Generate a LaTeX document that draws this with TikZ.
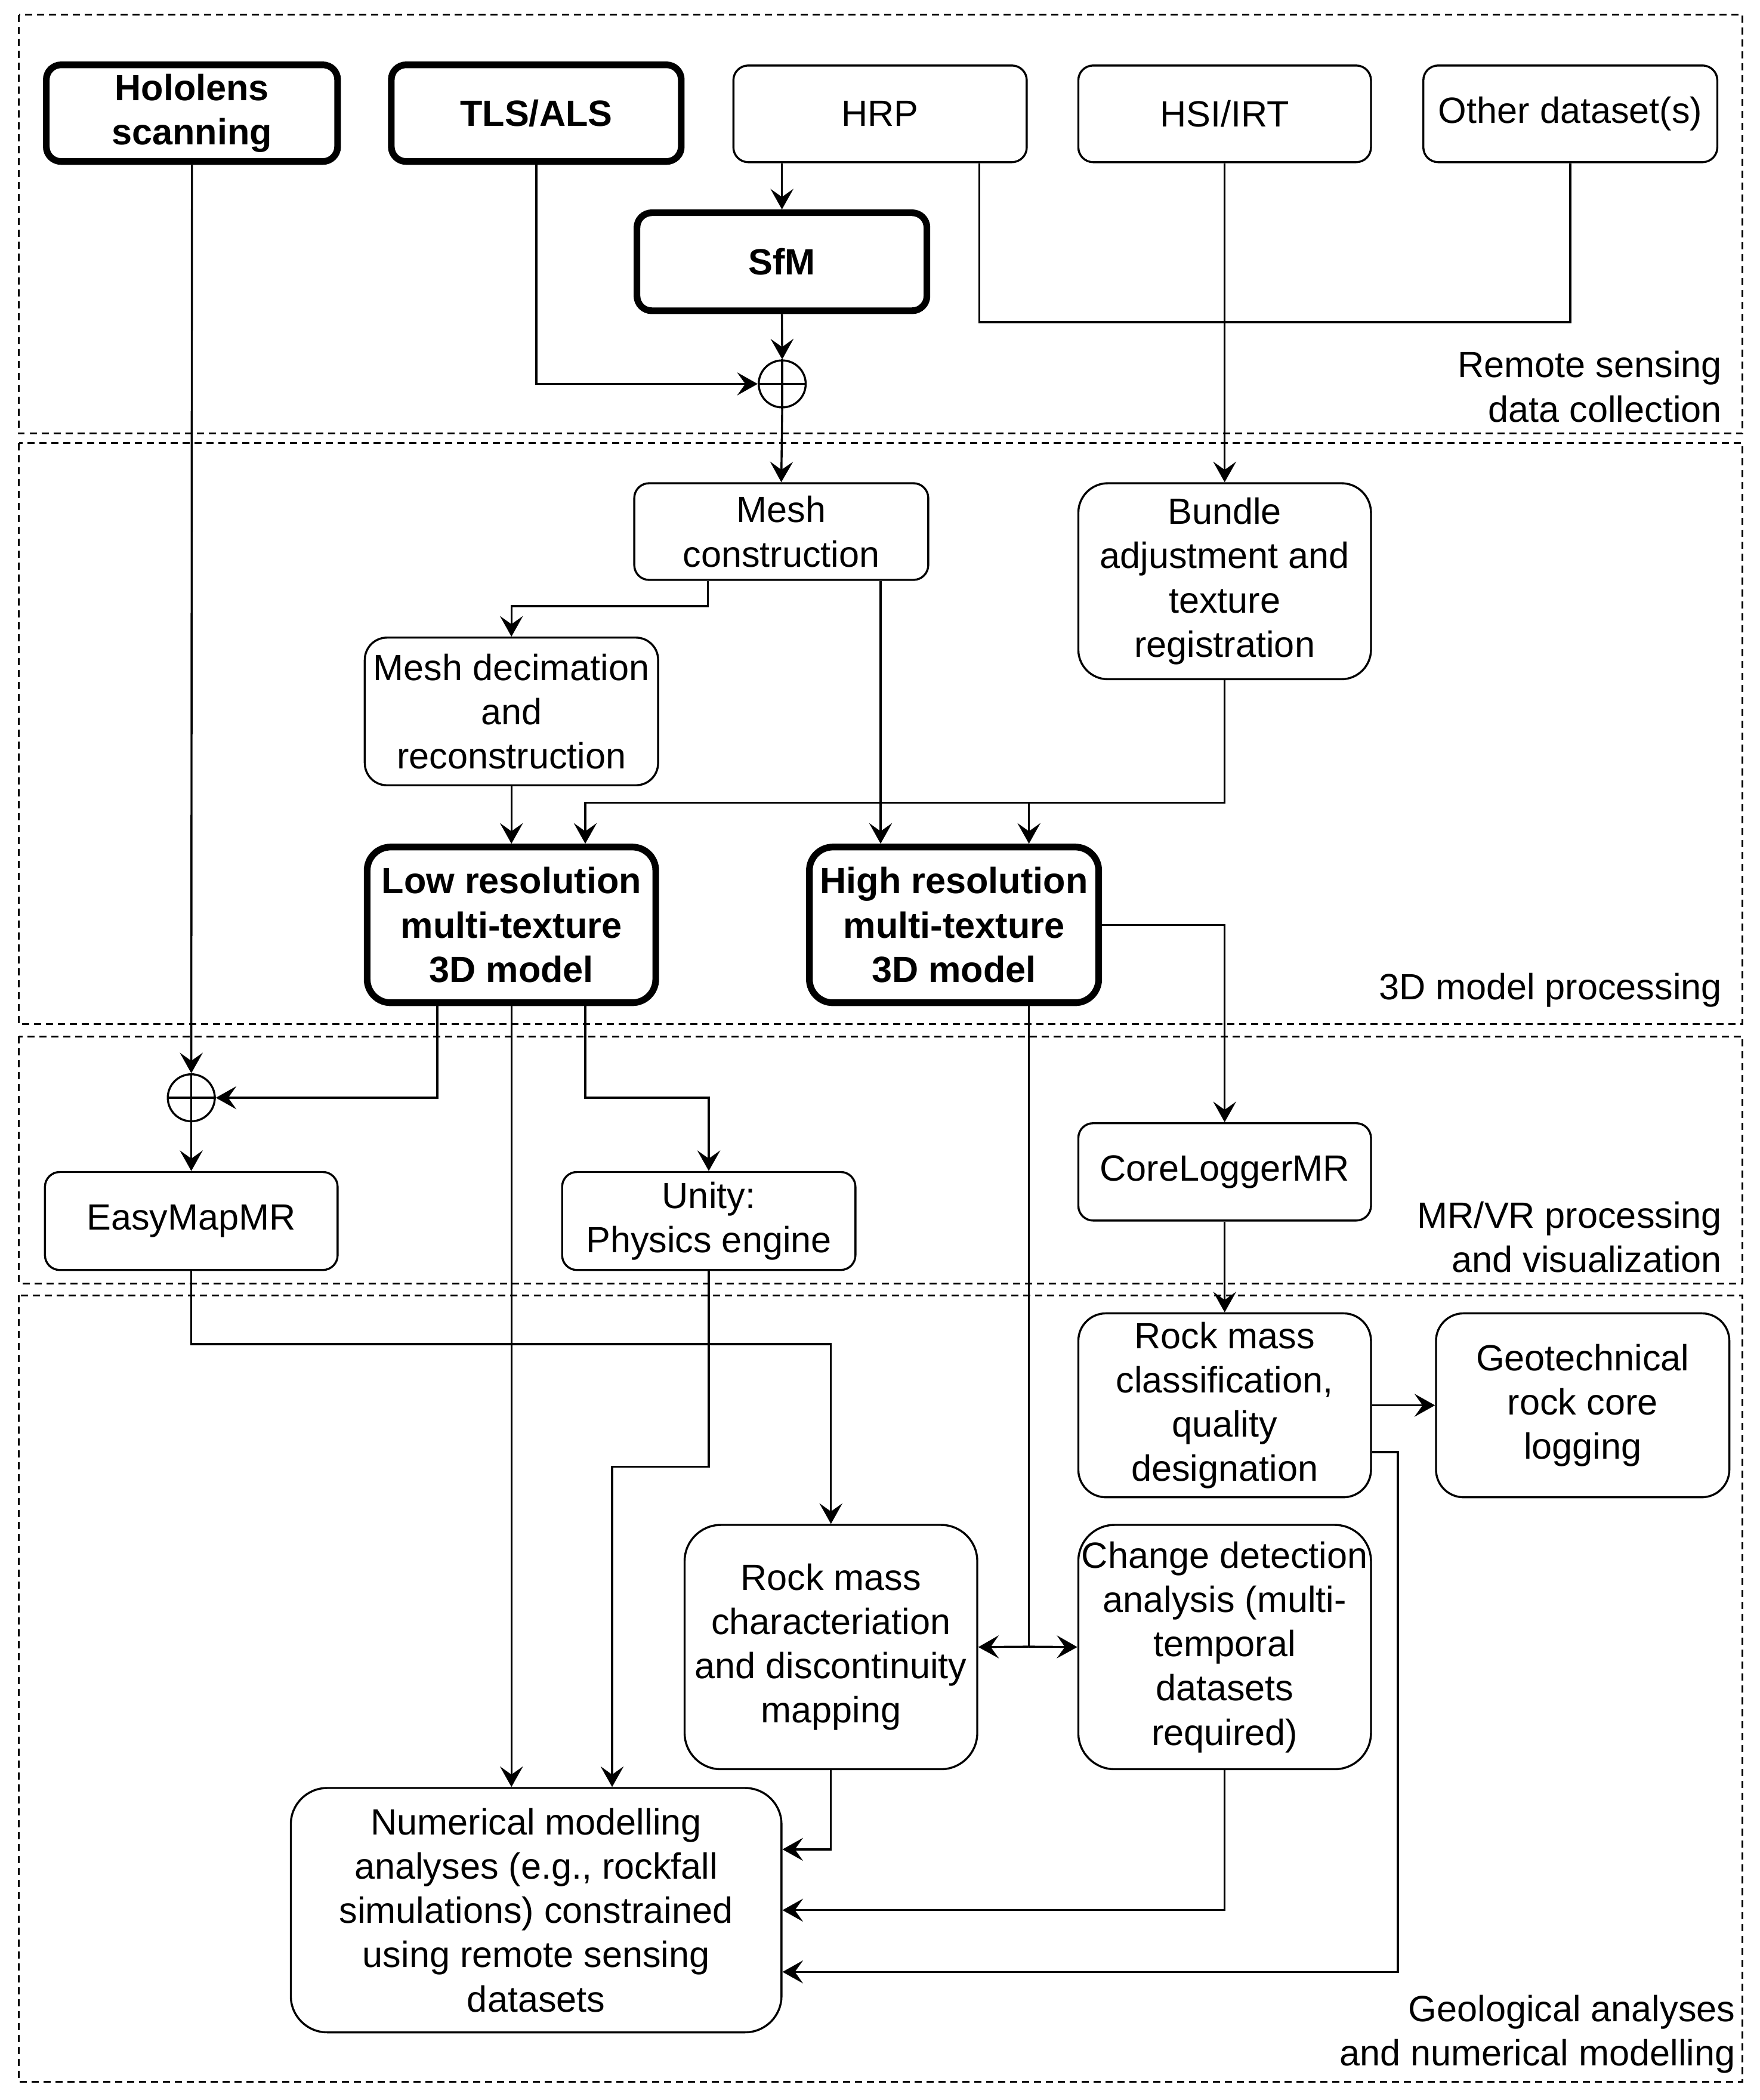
\documentclass[tikz,border=0pt]{standalone}
\usepackage{fontspec}
\setmainfont{Liberation Sans}
\usetikzlibrary{arrows.meta}
\begin{document}
\begin{tikzpicture}[x=0.5625pt,y=-0.5625pt,
  font=\fontsize{15.3pt}{18.56pt}\selectfont,
  box/.style n args={3}{draw, line width=0.85pt, rounded corners=#3*0.5625pt, align=center, inner sep=0pt,
    minimum width=#1*0.5625pt, minimum height=#2*0.5625pt},
  bbox/.style n args={3}{box={#1}{#2}{#3}, line width=2.8pt, font=\fontsize{15.3pt}{18.56pt}\selectfont\bfseries},
  plus/.style={circle, draw, line width=0.85pt, minimum size=35*0.5625pt, inner sep=0pt},
  wire/.style={line width=0.85pt},
  arr/.style={line width=0.85pt, -{Stealth[length=8.6pt, width=9.6pt, inset=3.4pt]}},
  frame/.style={line width=0.75pt, dash pattern=on 3pt off 2pt},
  lab/.style={anchor=east, align=right, inner sep=0pt}]
\useasboundingbox (0,0) rectangle (1310.67,1564.44);
\fill[white] (0,0) rectangle (1310.67,1564.44);

% section frames
\draw[frame] (14,11) rectangle (1298,323);
\draw[frame] (14,330) rectangle (1298,763);
\draw[frame] (14,772) rectangle (1298,956);
\draw[frame] (14,965) rectangle (1298,1551);

% section labels
\node[lab] (L1) at (1283,288) {Remote sensing\\data collection};
\node[lab] (L2) at (1283,737.5) {3D model processing};
\node[lab] (L3) at (1283,921.5) {MR/VR processing\\and visualization};
\node[lab] (L4) at (1293,1515.5) {Geological analyses\\and numerical modelling};

% nodes
\node[bbox={217}{72}{11}] (hol) at (143,84.3) {Hololens\\scanning};
\node[bbox={216}{72}{11}] (tls) at (399.5,84.3) {TLS/ALS};
\node[box={218.5}{72}{11}] (hrp) at (655.6,84.8) {HRP};
\node[box={218}{72}{11}] (hsi) at (912.3,84.8) {HSI/IRT};
\node[box={219}{72}{11}] (oth) at (1169.8,84.8) {Other dataset(s)};
\node[bbox={216}{73}{11}] (sfm) at (582.5,195) {SfM};
\node[plus] (plus1) at (582.7,286) {};
\node[box={219}{72}{11}] (mesh) at (582,396) {Mesh\\construction};
\node[box={218}{146}{22}] (bund) at (912.3,433) {Bundle\\adjustment and\\texture\\registration};
\node[box={218.5}{110}{16.5}] (dec) at (381,530) {Mesh decimation\\and\\reconstruction};
\node[bbox={215}{116}{17.5}] (low) at (381,689) {Low resolution\\multi-texture\\3D model};
\node[bbox={215.5}{116}{17.5}] (high) at (710.7,689) {High resolution\\multi-texture\\3D model};
\node[plus] (plus2) at (142.5,817.8) {};
\node[box={218}{73}{11}] (easy) at (142.5,909.6) {EasyMapMR};
\node[box={218.5}{73}{11}] (unity) at (528,909.6) {Unity:\\Physics engine};
\node[box={218}{72.5}{11}] (core) at (912.3,873) {CoreLoggerMR};
\node[box={218}{137}{20.5}] (rmc) at (912.3,1046.9) {Rock mass\\classification,\\quality\\designation};
\node[box={218.5}{137}{20.5}] (geo) at (1179,1046.9) {Geotechnical\\rock core\\logging};
\node[box={218}{182}{27}] (rmch) at (619,1227) {Rock mass\\characteriation\\and discontinuity\\mapping};
\node[box={218}{182}{27}] (chg) at (912.3,1227) {Change detection\\analysis (multi-\\temporal\\datasets\\required)};
\node[box={365.5}{182}{27}] (num) at (399.4,1423) {Numerical modelling\\analyses (e.g., rockfall\\simulations) constrained\\using remote sensing\\datasets};

% plus signs inside circles
\draw[wire] (plus1.north) -- (plus1.south) (plus1.west) -- (plus1.east);
\draw[wire] (plus2.north) -- (plus2.south) (plus2.west) -- (plus2.east);

% helper coordinates
\coordinate (j1) at (729.5,240);
\coordinate (m1) at (527.4,451.5);
\coordinate (m2) at (656,0);
\coordinate (b1) at (436,598);
\coordinate (b2) at (766.5,598);
\coordinate (l1) at (325.8,0);
\coordinate (l2) at (436,817.8);
\coordinate (h1) at (766.5,1226.7);
\coordinate (r1) at (1041.3,1081.8);
\coordinate (r2) at (1041.3,1469);
\coordinate (n1) at (0,1377.7);
\coordinate (u1) at (456,1092.6);
\coordinate (e1) at (0,1001.4);

% connectors: data collection
\draw[arr] (sfm.north |- hrp.south) -- (sfm.north);
\draw[arr] (sfm.south) -- (plus1.north);
\draw[arr] (tls.south) |- (plus1.west);
\draw[wire] (hrp.south -| j1) -- (j1) -| (oth.south);
\draw[arr] (hsi.south) -- (bund.north);
\draw[arr] (plus1.south) -- (mesh.north);

% 3D model processing
\draw[arr] (m1 |- mesh.south) -- (m1) -| (dec.north);
\draw[arr] (m2 |- mesh.south) -- (m2 |- high.north);
\draw[arr] (dec.south) -- (low.north);
\draw[arr] (bund.south) |- (b1) -- (b1 |- low.north);
\draw[arr] (b2) -- (b2 |- high.north);
\draw[arr] (high.east) -| (core.north);

% MR/VR
\draw[arr] (hol.south) -- (plus2.north);
\draw[arr] (l1 |- low.south) |- (plus2.east);
\draw[arr] (l2 |- low.south) -- (l2) -| (unity.north);
\draw[arr] (low.south) -- (low.south |- num.north);
\draw[arr] (plus2.south) -- (easy.north);
\draw[arr] (core.south) -- (rmc.north);

% geological analyses
\draw[wire] (h1 |- high.south) -- (h1);
\draw[arr] (h1) -- (rmch.east);
\draw[arr] (h1) -- (chg.west);
\draw[arr] (rmc.east) -- (geo.west);
\draw[arr] (rmc.east |- r1) -- (r1) -- (r2) -- (num.east |- r2);
\draw[arr] (rmch.south) |- (num.east |- n1);
\draw[arr] (chg.south) |- (num.east);
\draw[arr] (unity.south) |- (u1) -- (u1 |- num.north);
\draw[arr] (easy.south) |- (rmch.north |- e1) -- (rmch.north);
\end{tikzpicture}
\end{document}
